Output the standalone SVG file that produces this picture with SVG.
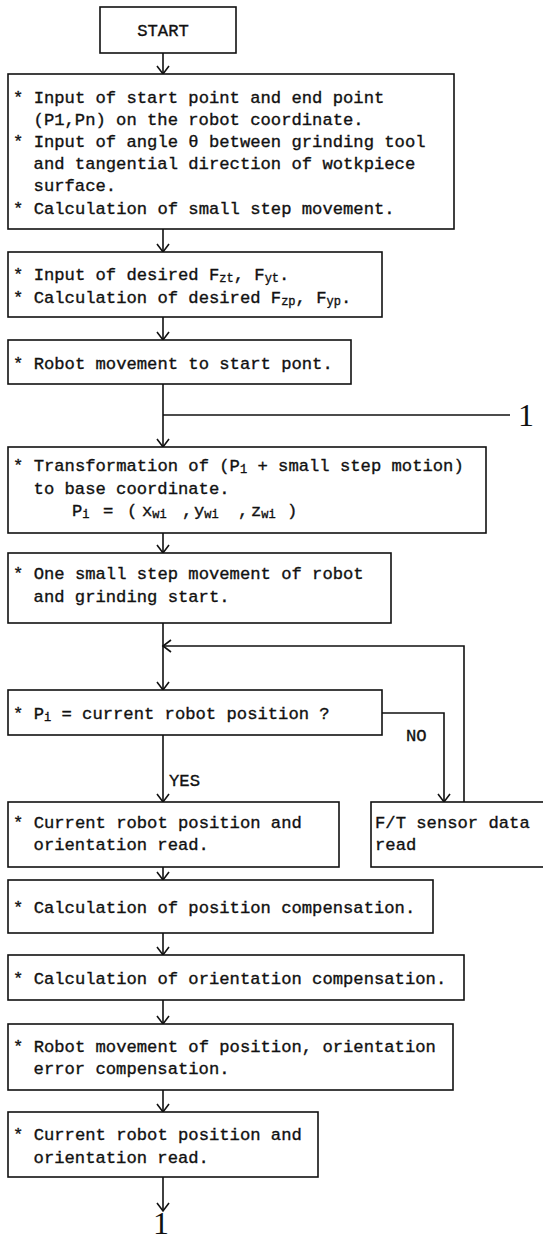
<svg xmlns="http://www.w3.org/2000/svg" width="543" height="1241" viewBox="0 0 543 1241">
<style>
.box{fill:#fff;stroke:#111;stroke-width:1.6}
.t{font-family:"Liberation Mono","DejaVu Sans Mono",monospace;font-size:17.2px;fill:#111;stroke:#111;stroke-width:0.35}
.sub{font-size:12px}
.conn{stroke:#111;stroke-width:1.6;fill:none}
.num{font-family:"Liberation Serif","DejaVu Serif",serif;font-size:32px;fill:#111;text-anchor:middle}
</style>
<defs>
<marker id="arr" markerUnits="userSpaceOnUse" markerWidth="14" markerHeight="16" viewBox="-11 -8 13 16" refX="0" refY="0" orient="auto">
<path d="M-8,-6 L0,0 L-8,6" fill="none" stroke="#111" stroke-width="1.6"/>
</marker>
</defs>
<rect width="543" height="1241" fill="#fff"/>
<g id="connectors">
<line class="conn" x1="163" y1="53" x2="163" y2="74" marker-end="url(#arr)"/>
<line class="conn" x1="163" y1="229" x2="163" y2="252" marker-end="url(#arr)"/>
<line class="conn" x1="163" y1="317" x2="163" y2="340" marker-end="url(#arr)"/>
<line class="conn" x1="163" y1="384" x2="163" y2="447" marker-end="url(#arr)"/>
<line class="conn" x1="163" y1="415" x2="510" y2="415"/>
<line class="conn" x1="163" y1="533" x2="163" y2="553" marker-end="url(#arr)"/>
<line class="conn" x1="163" y1="623" x2="163" y2="690" marker-end="url(#arr)"/>
<polyline class="conn" points="464,802 464,646 163,646" marker-end="url(#arr)"/>
<polyline class="conn" points="382,713 444,713 444,802" marker-end="url(#arr)"/>
<line class="conn" x1="163" y1="735" x2="163" y2="802" marker-end="url(#arr)"/>
<line class="conn" x1="163" y1="867" x2="163" y2="880" marker-end="url(#arr)"/>
<line class="conn" x1="163" y1="933" x2="163" y2="955" marker-end="url(#arr)"/>
<line class="conn" x1="163" y1="1000" x2="163" y2="1024" marker-end="url(#arr)"/>
<line class="conn" x1="163" y1="1090" x2="163" y2="1112" marker-end="url(#arr)"/>
<line class="conn" x1="163" y1="1177" x2="163" y2="1211" marker-end="url(#arr)"/>
<text class="t" x="169" y="786">YES</text>
<text class="t" x="406" y="741">NO</text>
<text class="num" x="526" y="426">1</text>
<text class="num" x="161" y="1234">1</text>
</g>
<g id="start">
<rect class="box" x="100" y="7" width="136" height="46"/>
<text class="t" x="163" y="36" text-anchor="middle">START</text>
</g>
<g id="input-points">
<rect class="box" x="8" y="74" width="446" height="155"/>
<text class="t" x="13" y="103">* Input of start point and end point</text>
<text class="t" x="33.6" y="125">(P1,Pn) on the robot coordinate.</text>
<text class="t" x="13" y="147">* Input of angle θ between grinding tool</text>
<text class="t" x="33.6" y="169">and tangential direction of wotkpiece</text>
<text class="t" x="33.6" y="191">surface.</text>
<text class="t" x="13" y="214">* Calculation of small step movement.</text>
</g>
<g id="input-forces">
<rect class="box" x="8" y="252" width="374" height="65"/>
<text class="t" x="13" y="280">* Input of desired F<tspan class="sub" dy="2">zt</tspan><tspan dy="-2">, F</tspan><tspan class="sub" dy="2">yt</tspan><tspan dy="-2">.</tspan></text>
<text class="t" x="13" y="303">* Calculation of desired F<tspan class="sub" dy="2">zp</tspan><tspan dy="-2">, F</tspan><tspan class="sub" dy="2">yp</tspan><tspan dy="-2">.</tspan></text>
</g>
<g id="move-start">
<rect class="box" x="8" y="340" width="343" height="44"/>
<text class="t" x="13" y="369">* Robot movement to start pont.</text>
</g>
<g id="transform">
<rect class="box" x="8" y="447" width="478" height="86"/>
<text class="t" x="13" y="471">* Transformation of (P<tspan class="sub" dy="2">1</tspan><tspan dy="-2"> + small step motion)</tspan></text>
<text class="t" x="33.6" y="494">to base coordinate.</text>
<text class="t" y="516"><tspan x="72">P</tspan><tspan class="sub" dy="2">i</tspan><tspan x="103" dy="-2">=</tspan><tspan x="127">(</tspan><tspan x="142">x</tspan><tspan class="sub" dy="2">wi</tspan><tspan x="182" dy="-2">,</tspan><tspan x="194">y</tspan><tspan class="sub" dy="2">wi</tspan><tspan x="238" dy="-2">,</tspan><tspan x="251">z</tspan><tspan class="sub" dy="2">wi</tspan><tspan x="287" dy="-2">)</tspan></text>
</g>
<g id="step-move">
<rect class="box" x="8" y="553" width="383" height="70"/>
<text class="t" x="13" y="579">* One small step movement of robot</text>
<text class="t" x="33.6" y="602">and grinding start.</text>
</g>
<g id="check-position">
<rect class="box" x="8" y="690" width="374" height="45"/>
<text class="t" x="13" y="719">* P<tspan class="sub" dy="2">i</tspan><tspan dy="-2"> = current robot position ?</tspan></text>
</g>
<g id="read-position-1">
<rect class="box" x="8" y="802" width="331" height="65"/>
<text class="t" x="13" y="828">* Current robot position and</text>
<text class="t" x="33.6" y="850">orientation read.</text>
</g>
<g id="ft-sensor">
<rect class="box" x="371" y="802" width="190" height="65"/>
<text class="t" x="375" y="828">F/T sensor data</text>
<text class="t" x="375" y="850">read</text>
</g>
<g id="pos-comp">
<rect class="box" x="8" y="880" width="425" height="53"/>
<text class="t" x="13" y="913">* Calculation of position compensation.</text>
</g>
<g id="ori-comp">
<rect class="box" x="8" y="955" width="456" height="45"/>
<text class="t" x="13" y="984">* Calculation of orientation compensation.</text>
</g>
<g id="error-comp">
<rect class="box" x="8" y="1024" width="445" height="66"/>
<text class="t" x="13" y="1052">* Robot movement of position, orientation</text>
<text class="t" x="33.6" y="1074">error compensation.</text>
</g>
<g id="read-position-2">
<rect class="box" x="8" y="1112" width="310" height="65"/>
<text class="t" x="13" y="1140">* Current robot position and</text>
<text class="t" x="33.6" y="1163">orientation read.</text>
</g>
</svg>
